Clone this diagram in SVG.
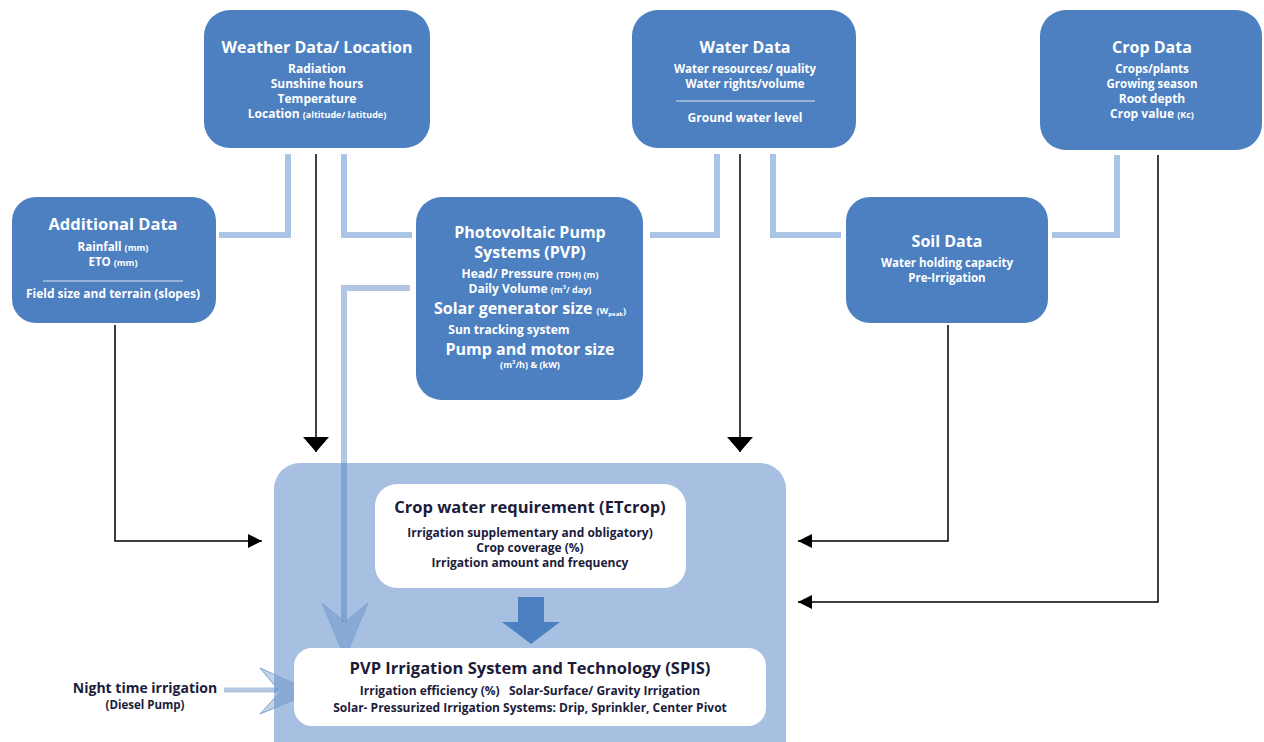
<svg xmlns="http://www.w3.org/2000/svg" width="1264" height="742" viewBox="0 0 1264 742">
<defs>
<style>
.box{fill:#4c80c1}
.t{font-family:"Open Sans","Liberation Sans",sans-serif;font-weight:bold;fill:#ffffff;text-anchor:middle}
.h{font-size:16px}
.s{font-size:12px}
.s2{font-size:11.5px}
.xs{font-size:9px}
.d{font-family:"Open Sans","Liberation Sans",sans-serif;font-weight:bold;fill:#1c1c3a;text-anchor:middle}
.dh{font-size:16.5px}
.lc{fill:none;stroke:#a9c4e4;stroke-width:6}
.bk{fill:none;stroke:#000;stroke-width:1.5}
.sep{stroke:#ffffff;stroke-width:0.8}
</style>
<marker id="ahv" viewBox="0 0 15 26" refX="15" refY="13" markerWidth="15" markerHeight="26" markerUnits="userSpaceOnUse" orient="auto">
<path d="M0,0 L15,13 L0,26 z" fill="#000"/>
</marker>
<marker id="ahh" viewBox="0 0 14 14" refX="14" refY="7" markerWidth="14" markerHeight="14" markerUnits="userSpaceOnUse" orient="auto">
<path d="M0,0 L14,7 L0,14 z" fill="#000"/>
</marker>
</defs>
<rect width="1264" height="742" fill="#ffffff"/>

<g id="result-panel">
<rect x="274" y="463" width="512" height="320" rx="26" fill="#a7c0e1"/>
</g>

<g id="connectors">
<path class="lc" d="M288,154 V235 H219"/>
<path class="lc" d="M344,154 V235 H412"/>
<path class="lc" d="M717,154 V235 H650"/>
<path class="lc" d="M773,154 V235 H841"/>
<path class="lc" d="M1117,155 V235 H1052"/>
<path d="M410,288 H344 V622" fill="none" stroke="#4f81bd" stroke-opacity="0.45" stroke-width="6"/>
<path d="M345,658 L322,603 L345,622 L368,603 Z" fill="#4f81bd" fill-opacity="0.35" stroke="#7fa3d3" stroke-width="1"/>
<path d="M224,690 H278" fill="none" stroke="#4f81bd" stroke-opacity="0.45" stroke-width="5"/>
<path d="M313,692 L260,668 L280,692 L260,714 Z" fill="#4f81bd" fill-opacity="0.35" stroke="#7fa3d3" stroke-width="1"/>
<path class="bk" d="M316,154 V452" marker-end="url(#ahv)"/>
<path class="bk" d="M740,154 V452" marker-end="url(#ahv)"/>
<path class="bk" d="M115,325 V541 H262" marker-end="url(#ahh)"/>
<path class="bk" d="M948,325 V541 H798" marker-end="url(#ahh)"/>
<path class="bk" d="M1158,155 V602 H798" marker-end="url(#ahh)"/>
<path d="M518,597 H544 V622 H560 L531,644 L502,622 H518 Z" fill="#4c80c1"/>
</g>

<g id="weather">
<rect class="box" x="204" y="10" width="226" height="138" rx="26"/>
<text class="t h" x="317" y="53">Weather Data/ Location</text>
<text class="t s" x="317" y="73">Radiation</text>
<text class="t s" x="317" y="88">Sunshine hours</text>
<text class="t s" x="317" y="103">Temperature</text>
<text class="t s" x="317" y="118">Location <tspan class="xs">(altitude/ latitude)</tspan></text>
</g>

<g id="water">
<rect class="box" x="632" y="10" width="224" height="138" rx="26"/>
<text class="t h" x="745" y="53">Water Data</text>
<text class="t s2" x="745" y="72.5">Water resources/ quality</text>
<text class="t s2" x="745" y="87.5">Water rights/volume</text>
<line class="sep" x1="676" y1="101" x2="815" y2="101"/>
<text class="t s" x="745" y="122">Ground water level</text>
</g>

<g id="crop">
<rect class="box" x="1040" y="10" width="222" height="140" rx="26"/>
<text class="t h" x="1152" y="53">Crop Data</text>
<text class="t s2" x="1152" y="72.5">Crops/plants</text>
<text class="t s2" x="1152" y="87.5">Growing season</text>
<text class="t s" x="1152" y="103">Root depth</text>
<text class="t s" x="1152" y="118">Crop value <tspan class="xs">(Kc)</tspan></text>
</g>

<g id="additional">
<rect class="box" x="12" y="197" width="204" height="126" rx="24"/>
<text class="t" x="113" y="230" font-size="16.5">Additional Data</text>
<text class="t s2" x="113" y="250.5">Rainfall <tspan class="xs">(mm)</tspan></text>
<text class="t s2" x="113" y="265.5">ETO <tspan class="xs">(mm)</tspan></text>
<line class="sep" x1="43" y1="281" x2="183" y2="281"/>
<text class="t s" x="113" y="298">Field size and terrain (slopes)</text>
</g>

<g id="pvp">
<rect class="box" x="416" y="197" width="227" height="203" rx="26"/>
<text class="t h" x="530" y="238">Photovoltaic Pump</text>
<text class="t h" x="530" y="258">Systems (PVP)</text>
<text class="t s" x="530" y="278">Head/ Pressure <tspan class="xs">(TDH) (m)</tspan></text>
<text class="t s" x="530" y="293">Daily Volume <tspan class="xs">(m³/ day)</tspan></text>
<text class="t h" x="530" y="314">Solar generator size <tspan class="xs">(W<tspan font-size="6" dy="2">peak</tspan><tspan dy="-2">)</tspan></tspan></text>
<text class="t s" x="509" y="334">Sun tracking system</text>
<text class="t h" x="530" y="355">Pump and motor size</text>
<text class="t xs" x="530" y="368">(m³/h) &amp; (kW)</text>
</g>

<g id="soil">
<rect class="box" x="846" y="197" width="202" height="126" rx="24"/>
<text class="t h" x="947" y="247">Soil Data</text>
<text class="t s2" x="947" y="266.5">Water holding capacity</text>
<text class="t s2" x="947" y="281.5">Pre-Irrigation</text>
</g>

<g id="crop-water">
<rect x="375" y="484" width="311" height="104" rx="22" fill="#ffffff"/>
<text class="d dh" x="530" y="513">Crop water requirement (ETcrop)</text>
<text class="d s" x="530" y="537">Irrigation supplementary and obligatory)</text>
<text class="d s" x="530" y="552">Crop coverage (%)</text>
<text class="d s" x="530" y="567">Irrigation amount  and frequency</text>
</g>

<g id="spis">
<rect x="294" y="648" width="472" height="78" rx="18" fill="#ffffff"/>
<text class="d dh" x="530" y="674">PVP Irrigation System and Technology (SPIS)</text>
<text class="d s" x="530" y="695" xml:space="preserve">Irrigation efficiency (%)   Solar-Surface/ Gravity Irrigation</text>
<text class="d s" x="530" y="712">Solar- Pressurized Irrigation Systems: Drip, Sprinkler, Center Pivot</text>
</g>

<g id="night">
<text class="d" x="145" y="693" font-size="14">Night time irrigation</text>
<text class="d" x="145" y="709" font-size="11.5">(Diesel Pump)</text>
</g>
</svg>
